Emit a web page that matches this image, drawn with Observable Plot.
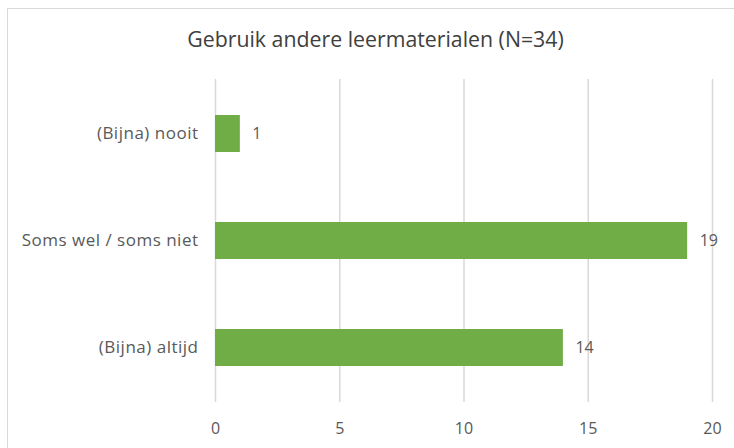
<!DOCTYPE html>
<html>
<head>
<meta charset="utf-8">
<script src="https://cdn.jsdelivr.net/npm/d3@7"></script>
<script src="https://cdn.jsdelivr.net/npm/@observablehq/plot@0.6"></script>
<style>
  html, body { margin: 0; padding: 0; background: #fff; }
  #wrap { position: relative; width: 734px; height: 448px; overflow: hidden; font-family: "Open Sans", sans-serif; }
  #border { position: absolute; left: 7px; top: 8px; width: 800px; height: 520px; border: 1px solid #D9D9D9; box-sizing: border-box; }
  #title { position: absolute; left: 0; top: 27px; width: 751px; text-align: center; font-size: 21.3px; line-height: 24px; color: #404040; font-family: "Open Sans", sans-serif; }
  #chart { position: absolute; left: 0; top: 0; }
  #chart svg g[aria-label="y-axis tick label"] text { font-size: 17px; letter-spacing: 0.5px; }
</style>
</head>
<body>
<div id="wrap">
  <div id="border"></div>
  <div id="chart"></div>
  <div id="title">Gebruik andere leermaterialen (N=34)</div>
</div>
<script>
const categories = ["(Bijna) nooit", "Soms wel / soms niet", "(Bijna) altijd"];
const values = [1, 19, 14];
const xTicks = [0, 5, 10, 15, 20];

const data = categories.map((c, i) => ({category: c, value: values[i]}));

const chart = Plot.plot({
  width: 734,
  height: 448,
  marginTop: 79,
  marginBottom: 46,
  marginLeft: 215,
  marginRight: 22,
  style: {background: "transparent", fontFamily: "Open Sans, sans-serif", fontSize: "16px", color: "#595959"},
  x: {domain: [0, 20], ticks: xTicks, label: null, tickSize: 0, tickPadding: 20},
  y: {domain: categories, label: null, tickSize: 0, tickPadding: 17, paddingInner: 0.65, paddingOuter: 0.325},
  marks: [
    Plot.ruleX(xTicks, {stroke: "#D9D9D9", strokeWidth: 1.5}),
    Plot.barX(data, {x: "value", y: "category", fill: "#70AD47"}),
    Plot.text(data, {x: "value", y: "category", text: d => String(d.value), textAnchor: "start", dx: 12, fill: "#595959", fontSize: 16})
  ]
});
document.getElementById("chart").appendChild(chart);
</script>
</body>
</html>
